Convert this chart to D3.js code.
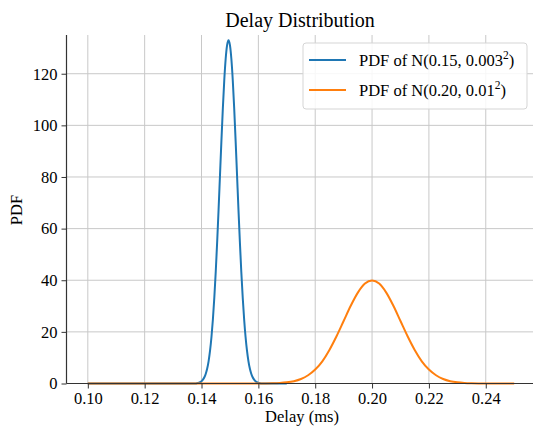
<html>
<head>
    <script src="https://d3js.org/d3.v7.min.js"></script>
    <style>
        body { margin: 0; background: white; }
        svg text { font-family: "Liberation Serif", "Times New Roman", serif !important; fill: #000; }
        .grid line { stroke: #c8c8c8; stroke-width: 1px; }
    </style>
</head>
<body>
    <svg id="chart" width="533" height="433"></svg>
    <script>
        // delay values (ms) and PDF values
        const blueX = [0.100, 0.130, 0.138, 0.1385, 0.139, 0.1395, 0.140, 0.1405, 0.141, 0.1415, 0.142, 0.1425,
            0.143, 0.1435, 0.144, 0.1445, 0.145, 0.1455, 0.146, 0.1465, 0.147, 0.1475, 0.148, 0.1485, 0.149, 0.1495,
            0.150, 0.1505, 0.151, 0.1515, 0.152, 0.1525, 0.153, 0.1535, 0.154, 0.1545, 0.155, 0.1555, 0.156, 0.1565,
            0.157, 0.1575, 0.158, 0.1585, 0.159, 0.1595, 0.160, 0.1605, 0.161, 0.1615, 0.162, 0.170, 0.250];
        const blueY = [0, 0, 0.04, 0.16, 0.3, 0.5, 0.9, 1.5, 2.4, 3.8, 5.8, 8.7,
            12.7, 18.0, 24.8, 33.2, 43.2, 54.7, 67.3, 80.7, 94.0, 106.5, 117.4, 125.8, 131.1,
            133.0, 131.1, 125.8, 117.4, 106.5, 94.0, 80.7, 67.3, 54.7, 43.2, 33.2, 24.8, 18.0, 12.7,
            8.7, 5.8, 3.8, 2.4, 1.5, 0.9, 0.5, 0.3, 0.16, 0.04, 0, 0, 0];
        const orangeX = [0.100, 0.150, 0.160, 0.165, 0.1675, 0.170, 0.1725, 0.175, 0.1775, 0.180, 0.1825, 0.185,
            0.1875, 0.190, 0.1925, 0.195, 0.1975, 0.200, 0.2025, 0.205, 0.2075, 0.210, 0.2125, 0.215, 0.2175,
            0.220, 0.2225, 0.225, 0.2275, 0.230, 0.2325, 0.235, 0.240, 0.250];
        const orangeY = [0, 0, 0.01, 0.09, 0.2, 0.44, 0.9, 1.75, 3.2, 5.4, 8.6, 13.0,
            18.3, 24.2, 30.1, 35.2, 38.7, 39.9, 38.7, 35.2, 30.1, 24.2, 18.3, 13.0, 8.6,
            5.4, 3.2, 1.75, 0.9, 0.44, 0.2, 0.09, 0.01, 0];
        const xTicks = [0.10, 0.12, 0.14, 0.16, 0.18, 0.20, 0.22, 0.24];
        const yTicks = [0, 20, 40, 60, 80, 100, 120];
        const seriesNames = ["0.15, 0.003", "0.20, 0.01"];
        const seriesColors = ["#1f77b4", "#ff7f0e"];

        const svg = d3.select("#chart");
        const x = d3.scaleLinear().domain([0.0925, 0.2575]).range([66.5, 535.5]);
        const y = d3.scaleLinear().domain([0, 135]).range([383.5, 35]);

        // grid
        const grid = svg.append("g").attr("class", "grid");
        grid.selectAll("line.vx").data(xTicks).join("line")
            .attr("x1", d => x(d)).attr("x2", d => x(d))
            .attr("y1", y.range()[0]).attr("y2", y.range()[1]);
        grid.selectAll("line.hy").data(yTicks).join("line")
            .attr("x1", x.range()[0]).attr("x2", x.range()[1])
            .attr("y1", d => y(d)).attr("y2", d => y(d));

        // curves
        const line = d3.line().x(d => x(d[0])).y(d => y(d[1])).curve(d3.curveMonotoneX);
        svg.append("path").datum(d3.zip(blueX, blueY))
            .attr("d", line).attr("fill", "none")
            .attr("stroke", seriesColors[0]).attr("stroke-width", 2);
        svg.append("path").datum(d3.zip(orangeX, orangeY))
            .attr("d", line).attr("fill", "none")
            .attr("stroke", seriesColors[1]).attr("stroke-width", 2);

        // axes
        const xAxis = svg.append("g").attr("transform", `translate(0,${y(0)})`)
            .call(d3.axisBottom(x).tickValues(xTicks).tickFormat(d3.format(".2f")).tickSize(5).tickPadding(4));
        const yAxis = svg.append("g").attr("transform", `translate(${x.range()[0]},0)`)
            .call(d3.axisLeft(y).tickValues(yTicks).tickSize(5).tickPadding(4));
        [xAxis, yAxis].forEach(a => {
            a.attr("font-family", null).attr("font-size", 16.5);
            a.select(".domain").attr("stroke", "#333").attr("stroke-width", 1.2);
            a.selectAll(".tick line").attr("stroke", "#333");
            a.selectAll(".tick text").attr("fill", "#000")
                .style("font-family", "'Liberation Serif', serif").style("font-size", "16.5px");
        });
        xAxis.select(".domain").attr("d", `M${x.range()[0]},0H${x.range()[1]}`);
        yAxis.select(".domain").attr("d", `M0,${y.range()[0]}V${y.range()[1]}`);

        // title and labels
        svg.append("text").attr("x", 300).attr("y", 26.5).attr("text-anchor", "middle")
            .attr("font-size", 20).text("Delay Distribution");
        svg.append("text").attr("x", 302).attr("y", 422).attr("text-anchor", "middle")
            .attr("font-size", 16.5).text("Delay (ms)");
        svg.append("text").attr("transform", "translate(21.5,210) rotate(-90)").attr("text-anchor", "middle")
            .attr("font-size", 16.5).text("PDF");

        // legend
        const legend = svg.append("g").attr("transform", "translate(303,43)");
        legend.append("rect").attr("width", 224).attr("height", 66).attr("rx", 3)
            .attr("fill", "white").attr("fill-opacity", 0.85).attr("stroke", "#d5d5d5");
        seriesNames.forEach((name, i) => {
            const row = legend.append("g").attr("transform", `translate(0,${17 + i * 30})`);
            row.append("line").attr("x1", 6).attr("x2", 43)
                .attr("stroke", seriesColors[i]).attr("stroke-width", 2);
            const t = row.append("text").attr("x", 56).attr("y", 5.5).attr("font-size", 16.5);
            t.append("tspan").text(`PDF of N(${name}`);
            t.append("tspan").attr("dy", -6.5).attr("font-size", 11.5).text("2");
            t.append("tspan").attr("dy", 6.5).text(")");
        });
    </script>
</body>
</html>
